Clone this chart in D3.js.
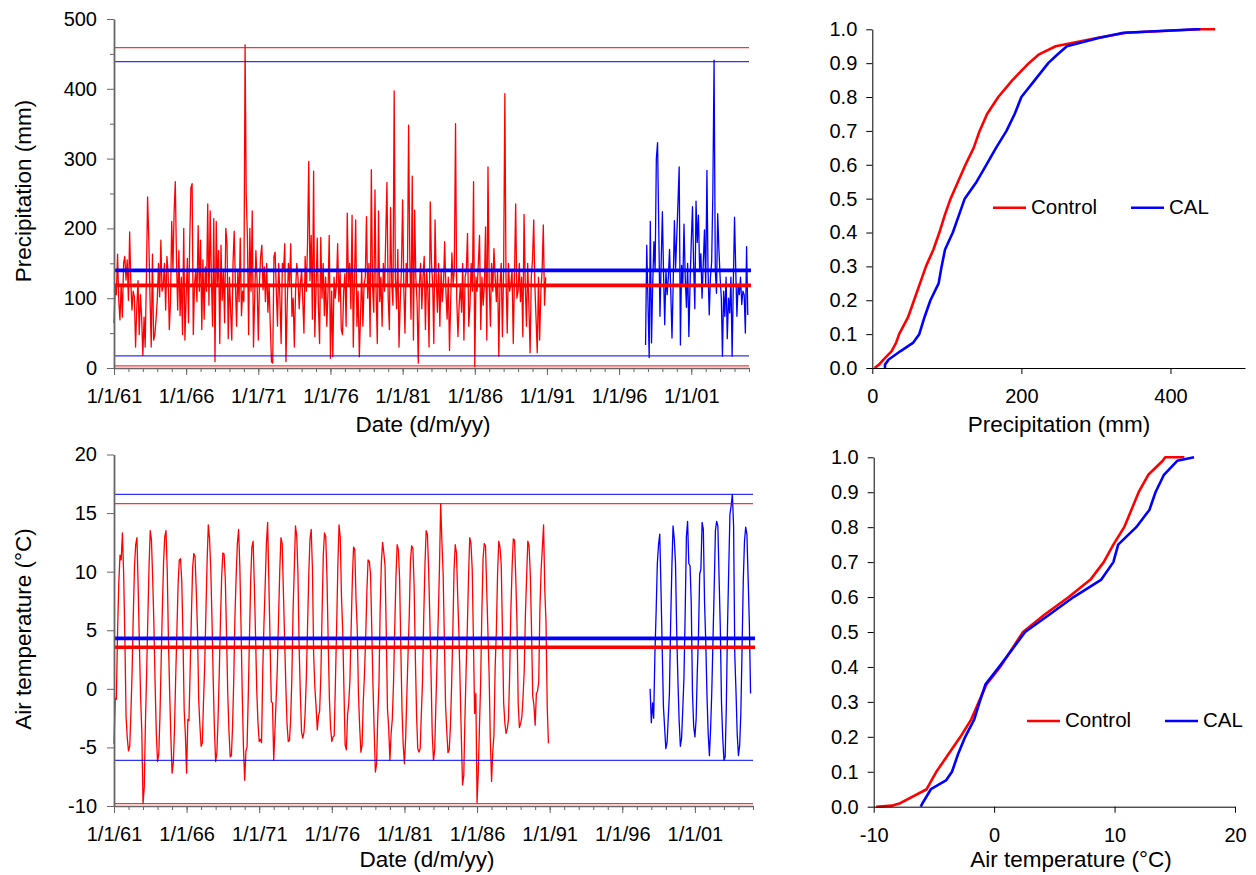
<!DOCTYPE html>
<html>
<head>
<meta charset="utf-8">
<script src="https://cdn.jsdelivr.net/npm/d3@7/dist/d3.min.js"></script>
<style>
	body { margin: 0; background: #fff; }
	svg { display: block; }
</style>
</head>
<body>
<div id="root"></div>
<script>
// ---- data ----
const seriesNames = ['Control', 'CAL']

// monthly precipitation (mm), Control Jan 1961 - Dec 1990, one row per year
const controlPrecip = [
	64, 116, 105, 163, 97, 69, 120, 73, 150, 160, 126, 155,
	97, 195, 126, 83, 110, 102, 30, 87, 125, 48, 105, 73,
	18, 73, 30, 130, 245, 184, 102, 30, 163, 40, 48, 70,
	97, 150, 102, 183, 110, 118, 150, 83, 160, 137, 55, 95,
	210, 140, 221, 267, 157, 83, 168, 75, 130, 48, 200, 40,
	102, 157, 65, 180, 258, 264, 48, 120, 140, 95, 204, 110,
	183, 55, 155, 70, 145, 110, 235, 90, 225, 130, 60, 214,
	9, 210, 120, 168, 35, 176, 97, 138, 65, 200, 178, 42,
	130, 80, 40, 150, 196, 120, 60, 140, 95, 186, 75, 110,
	95, 463, 250, 186, 48, 200, 110, 225, 30, 100, 168, 125,
	40, 125, 160, 176, 112, 145, 95, 150, 80, 120, 60, 9,
	7, 160, 166, 112, 60, 150, 100, 35, 150, 140, 178, 9,
	90, 150, 120, 178, 74, 100, 30, 110, 150, 130, 85, 120,
	140, 95, 50, 160, 110, 180, 296, 125, 190, 70, 282, 45,
	110, 186, 90, 35, 187, 100, 150, 75, 130, 60, 110, 190,
	14, 110, 16, 130, 100, 120, 178, 95, 140, 55, 48, 110,
	135, 60, 222, 120, 150, 85, 219, 30, 130, 212, 60, 110,
	16, 75, 140, 60, 120, 130, 217, 100, 150, 45, 284, 120,
	80, 255, 110, 35, 225, 95, 130, 60, 150, 110, 190, 266,
	100, 55, 230, 120, 90, 397, 130, 85, 170, 30, 95, 140,
	241, 110, 50, 150, 120, 348, 160, 70, 275, 40, 226, 130,
	95, 7, 120, 150, 85, 130, 160, 55, 140, 110, 30, 238,
	150, 120, 35, 212, 130, 80, 150, 60, 140, 95, 120, 181,
	110, 70, 130, 25, 95, 165, 120, 140, 350, 100, 45, 90,
	120, 80, 150, 40, 130, 140, 193, 60, 90, 150, 110, 267,
	2, 130, 110, 150, 190, 55, 130, 90, 120, 202, 40, 288,
	120, 60, 150, 110, 171, 130, 95, 140, 17, 120, 150, 45,
	140, 393, 130, 50, 150, 110, 120, 140, 35, 130, 235, 100,
	110, 150, 95, 130, 45, 220, 120, 60, 150, 90, 22, 130,
	155, 212, 120, 70, 22, 130, 40, 110, 140, 205, 90, 130
]

// monthly precipitation (mm), CAL Nov 1997 - Dec 2004
const calPrecip = [
	33, 176,
	95, 15, 210, 36, 120, 181, 140, 300, 323, 200, 74, 150,
	224, 130, 62, 140, 105, 130, 170, 110, 43, 120, 211, 143,
	190, 240, 288, 33, 147, 120, 206, 130, 87, 150, 45, 120,
	180, 231, 150, 85, 239, 180, 219, 140, 164, 100, 150, 198,
	120, 283, 140, 76, 130, 152, 250, 441, 140, 107, 221, 171,
	130, 100, 17, 110, 74, 130, 42, 100, 79, 130, 17, 120,
	216, 140, 74, 120, 105, 130, 91, 110, 105, 50, 174, 76
]

// monthly air temperature (°C), Control Jan 1961 - Dec 1990
const controlTemp = [
	-4.7, -0.8, -0.9, 4.9, 9.0, 11.4, 11.0, 13.3, 9.8, 4.4, -2.4, -4.2,
	-5.3, -4.9, -2.2, 1.4, 6.3, 10.5, 12.3, 12.9, 8.6, 3.9, -0.7, -3.6,
	-9.8, -8.4, -3.1, 1.2, 5.9, 10.4, 13.5, 12.7, 9.4, 5.6, 0.4, -3.8,
	-6.2, -5.6, -2.4, 2.3, 6.8, 10.8, 13.0, 13.5, 10.1, 4.2, -0.3, -4.1,
	-7.2, -6.3, -3.6, 0.9, 4.8, 8.9, 11.0, 11.1, 9.2, 4.6, -1.8, -3.9,
	-7.2, -2.6, -2.7, 1.7, 6.2, 10.3, 11.55, 11.3, 8.4, 5.1, -0.9, -3.1,
	-4.9, -4.6, -1.2, 1.9, 6.5, 10.9, 14.0, 12.8, 10.2, 6.0, 0.8, -3.4,
	-6.2, -5.5, -2.7, 1.3, 5.7, 9.6, 11.6, 11.5, 9.3, 4.7, -0.4, -3.6,
	-5.8, -5.7, -3.3, 0.8, 6.2, 9.7, 12.4, 13.6, 10.4, 5.3, -0.5, -5.0,
	-7.8, -5.3, -5.0, -0.6, 4.4, 9.3, 12.1, 12.6, 8.8, 4.5, -0.2, -2.9,
	-4.5, -4.3, -4.6, 1.6, 5.6, 8.9, 12.4, 14.2, 9.1, 4.1, -1.1, -1.2,
	-6.1, -3.5, -1.0, 1.8, 6.0, 10.1, 12.9, 12.4, 8.2, 4.3, 0.2, -3.0,
	-4.5, -4.4, -2.7, 0.9, 6.6, 10.2, 13.9, 13.1, 9.9, 3.6, -0.5, -3.7,
	-4.2, -3.7, -2.1, 1.0, 5.3, 9.8, 12.8, 13.6, 10.2, 3.0, 0.1, -1.5,
	-3.5, -2.3, -1.9, 1.2, 6.4, 11.4, 13.3, 13.0, 9.6, 4.2, -0.8, -3.3,
	-4.5, -4.1, -4.0, 0.6, 5.2, 10.5, 14.0, 12.9, 7.8, 5.0, 0.0, -4.8,
	-5.2, -2.2, -1.3, 0.8, 5.1, 9.4, 12.1, 11.9, 7.6, 5.2, -0.4, -3.2,
	-5.4, -4.8, -1.2, 1.2, 4.3, 8.3, 11.0, 10.9, 9.8, 5.3, 0.3, -3.5,
	-7.1, -6.4, -2.5, 0.4, 6.8, 10.8, 12.5, 11.6, 10.5, 4.9, -1.7, -3.3,
	-6.1, -3.8, -2.6, 0.5, 5.1, 9.5, 12.3, 11.9, 9.4, 3.6, -1.9, -4.8,
	-6.4, -4.1, -0.7, 2.9, 6.2, 10.9, 12.2, 12.0, 8.8, 2.9, -2.2, -5.1,
	-5.4, -5.1, -2.2, 0.7, 6.1, 10.6, 13.5, 13.2, 10.2, 6.0, 1.2, -3.9,
	-6.1, -5.2, -1.5, 2.4, 6.1, 10.4, 15.8, 12.6, 9.8, 4.4, -1.4, -3.6,
	-5.45, -5.2, -3.3, 0.3, 4.7, 10.1, 12.3, 11.6, 7.9, 4.8, 0.4, -4.0,
	-8.2, -7.4, -2.7, 1.6, 5.2, 9.6, 12.9, 12.4, 10.2, 4.3, -2.1, -0.4,
	-9.7, -7.1, -3.4, 0.5, 6.4, 11.1, 12.4, 12.2, 8.5, 4.9, 1.1, -4.4,
	-7.9, -5.3, -4.0, 1.8, 4.9, 9.8, 12.6, 12.1, 10.6, 5.0, -1.2, -2.9,
	-3.8, -3.4, -2.6, 1.4, 6.8, 10.4, 12.8, 12.7, 9.4, 5.7, -1.3, -3.3,
	-2.95, -2.4, -0.8, 1.5, 6.3, 9.6, 12.6, 12.2, 9.8, 5.2, -0.6, -1.4,
	-3.1, -0.4, -0.2, 0.6, 6.9, 10.2, 12.0, 14.0, 8.4, 5.7, -1.6, -4.65
]

// monthly air temperature (°C), CAL Dec 1997 - Nov 2004
const calTemp = [
	0.0,
	-2.9, -1.2, -2.5, 3.0, 6.5, 10.7, 12.3, 13.2, 8.5, 3.5, -1.5, -3.3,
	-5.1, -4.6, -2.6, -0.4, 5.5, 10.3, 13.9, 12.8, 10.7, 4.9, 0.7, -2.7,
	-4.9, -4.2, -1.8, 1.0, 6.4, 13.0, 14.3, 10.7, 10.5, 7.3, -0.4, -3.2,
	-4.1, -2.6, 1.3, 4.6, 9.8, 10.2, 14.2, 13.6, 7.3, 4.0, -0.6, -3.8,
	-5.7, -3.3, -0.3, 4.2, 8.6, 13.5, 14.3, 13.9, 9.5, 5.3, -1.2, -4.1,
	-6.1, -5.8, -1.7, 5.3, 10.1, 14.9, 15.6, 16.6, 13.9, 2.9, -0.3, -3.9,
	-5.7, -4.8, -2.1, 3.4, 9.2, 12.6, 13.8, 13.2, 9.4, 5.6, -0.4
]

// first month of each record [year, month index]
const controlStart = [1961, 0]
const calPrecipStart = [1997, 10]
const calTempStart = [1997, 11]

// horizontal reference lines, [Control, CAL]
const precipMin = [3, 17.5]
const precipMean = [118.5, 140]
const precipMax = [459, 439]
const tempMin = [-9.8, -6.1]
const tempMean = [3.55, 4.3]
const tempMax = [15.8, 16.6]

// cumulative distributions: probability levels and the values at them
const precipCdfProb = [0, 0.01, 0.025, 0.05, 0.075, 0.1, 0.15, 0.2, 0.25, 0.3, 0.35, 0.4, 0.45, 0.5, 0.55, 0.6, 0.65, 0.7, 0.75, 0.8, 0.85, 0.9, 0.925, 0.95, 0.975, 0.99, 1, 1]
const precipCdfControl = [3, 9, 15, 26, 32, 36, 48, 56, 64, 72, 82, 90, 97, 105, 115, 125, 136, 144, 154, 169, 188, 210, 223, 246, 303, 341, 440, 460]
const precipCdfCal = [17, 17, 22, 38, 55, 63, 70, 78, 89, 93, 97.6, 108, 116, 124, 140, 153, 166, 180, 191, 200, 218, 236, 248, 261, 305, 337, 435, 440]

const tempCdfProb = [0, 0.003, 0.01, 0.05, 0.075, 0.1, 0.15, 0.2, 0.25, 0.3, 0.35, 0.4, 0.45, 0.5, 0.55, 0.6, 0.65, 0.7, 0.75, 0.8, 0.85, 0.9, 0.95, 0.99, 1, 1]
const tempCdfControl = [-9.8, -8.5, -7.8, -5.6, -5.2, -4.8, -3.8, -2.8, -1.9, -1.27, -0.64, 0.5, 1.45, 2.4, 4.2, 6.2, 8.0, 9.1, 9.9, 10.8, 11.4, 12.0, 12.8, 14.0, 14.2, 15.8]
const tempCdfCal = [-6.1, -6.05, -5.95, -5.25, -4.0, -3.5, -3.0, -2.4, -1.65, -1.2, -0.72, 0.4, 1.5, 2.57, 4.6, 6.6, 8.9, 9.9, 10.3, 11.8, 12.9, 13.4, 14.1, 15.2, 16.6, 16.6]

// ---- layout ----
const C = {
	width: 1256,
	height: 875,
	font: '"Liberation Sans", Arial, Helvetica, sans-serif',
	tickFont: 20,
	titleFont: 22.5,
	legendFont: 20.5,
	colors: ['#ff0000', '#0000ff'],
	dateStart: new Date(1961, 0, 1),
	dateEnd: new Date(2005, 0, 1),
	precipSeries: { x: [114, 749], y: [368, 19], title: [423, 432], ytitle: [30.5, 191] },
	tempSeries: { x: [114, 753], y: [806, 454.5], title: [427, 867], ytitle: [30.5, 629] },
	precipCdf: { x: [872.3, 1245], y: [368, 29.3], title: [1059, 432], legend: [993, 207.7] },
	tempCdf: { x: [873.7, 1235], y: [806.7, 457.3], title: [1071, 867], legend: [1027, 721] },
}

// plain hyphen for negatives, as in the figure
const plainNum = d => String(d)

const container = d3.select('#root')

const svg = container.append('svg')
	.attr('width', C.width)
	.attr('height', C.height)
	.style('font-family', C.font)

svg.append('rect')
	.attr('width', C.width)
	.attr('height', C.height)
	.attr('fill', '#fff')

drawSeries(C.precipSeries,
	[{ values: controlPrecip, start: controlStart }, { values: calPrecip, start: calPrecipStart }],
	precipMin, precipMean, precipMax,
	{ domain: [0, 500], major: d3.range(0, 501, 100), minor: d3.range(50, 500, 100), title: 'Precipitation (mm)' })

drawSeries(C.tempSeries,
	[{ values: controlTemp, start: controlStart }, { values: calTemp, start: calTempStart }],
	tempMin, tempMean, tempMax,
	{ domain: [-10, 20], major: d3.range(-10, 21, 5), minor: [], title: 'Air temperature (°C)' })

drawCdf(C.precipCdf, precipCdfProb, [precipCdfControl, precipCdfCal],
	{ domain: [0, 500], ticks: [0, 200, 400], title: 'Precipitation (mm)' })

drawCdf(C.tempCdf, tempCdfProb, [tempCdfControl, tempCdfCal],
	{ domain: [-10, 20], ticks: [-10, 0, 10, 20], title: 'Air temperature (°C)' })


function drawSeries(p, series, mins, means, maxs, opts) {
	const x = d3.scaleTime()
		.domain([C.dateStart, C.dateEnd])
		.range(p.x)
	const y = d3.scaleLinear()
		.domain(opts.domain)
		.range(p.y)

	const g = svg.append('g')

	// -- monthly lines --
	const line = d3.line()
		.x(d => x(d.date))
		.y(d => y(d.value))

	series.forEach((s, i) => {
		const pts = s.values.map((v, k) => ({ date: new Date(s.start[0], s.start[1] + k, 1), value: v }))
		g.append('path')
			.datum(pts)
			.attr('d', line)
			.attr('fill', 'none')
			.attr('stroke', C.colors[i])
			.attr('stroke-width', 1.3)
			.attr('stroke-linejoin', 'round')
	})

	// -- min / max / mean lines --
	seriesNames.forEach((name, i) => {
		[mins[i], maxs[i]].forEach(v => {
			g.append('line')
				.attr('x1', p.x[0]).attr('x2', p.x[1])
				.attr('y1', y(v)).attr('y2', y(v))
				.attr('stroke', C.colors[i])
				.attr('stroke-width', 1.3)
				.attr('opacity', 0.8)
		})
		g.append('line')
			.attr('x1', p.x[0]).attr('x2', p.x[1] + 2)
			.attr('y1', y(means[i])).attr('y2', y(means[i]))
			.attr('stroke', C.colors[i])
			.attr('stroke-width', 3.7)
	})

	// -- axis --
	const years = d3.timeYear.range(C.dateStart, d3.timeDay.offset(C.dateEnd, 1))
	const labelYears = years.filter(d => (d.getFullYear() - 1961) % 5 === 0 && d < C.dateEnd)
	const yearLabel = d3.timeFormat('%y')

	const axisColor = '#666'

	g.append('g')
		.attr('transform', `translate(0,${p.y[0]})`)
		.call(d3.axisBottom(x).tickValues(years).tickSize(4).tickSizeOuter(0).tickFormat(''))
		.call(a => a.select('.domain').remove())
		.attr('color', axisColor)

	g.append('g')
		.attr('transform', `translate(0,${p.y[0]})`)
		.call(d3.axisBottom(x).tickValues(labelYears).tickSize(7).tickSizeOuter(0)
			.tickFormat(d => '1/1/' + yearLabel(d)))
		.attr('color', axisColor)
		.attr('font-size', C.tickFont)
		.attr('font-family', C.font)
		.call(a => a.select('.domain').attr('stroke-width', 1.5))
		.call(a => a.selectAll('text').attr('y', 35).attr('dy', 0).attr('fill', '#000'))

	if (opts.minor.length) {
		g.append('g')
			.attr('transform', `translate(${p.x[0]},0)`)
			.call(d3.axisLeft(y).tickValues(opts.minor).tickSize(4).tickSizeOuter(0).tickFormat(''))
			.call(a => a.select('.domain').remove())
			.attr('color', axisColor)
	}

	g.append('g')
		.attr('transform', `translate(${p.x[0]},0)`)
		.call(d3.axisLeft(y).tickValues(opts.major).tickSize(7).tickSizeOuter(0).tickFormat(plainNum))
		.attr('color', axisColor)
		.attr('font-size', C.tickFont)
		.attr('font-family', C.font)
		.call(a => a.select('.domain').attr('stroke-width', 1.8))
		.call(a => a.selectAll('text').attr('x', -17).attr('fill', '#000'))

	// -- titles --
	g.append('text')
		.attr('x', p.title[0])
		.attr('y', p.title[1])
		.attr('text-anchor', 'middle')
		.attr('font-size', C.titleFont)
		.text('Date (d/m/yy)')

	g.append('text')
		.attr('transform', `translate(${p.ytitle[0]},${p.ytitle[1]}) rotate(-90)`)
		.attr('text-anchor', 'middle')
		.attr('font-size', C.titleFont)
		.text(opts.title)
}

function drawCdf(p, probs, cdfs, opts) {
	const x = d3.scaleLinear()
		.domain(opts.domain)
		.range(p.x)
	const y = d3.scaleLinear()
		.domain([0, 1])
		.range(p.y)

	const g = svg.append('g')

	const line = d3.line()
		.x(d => x(d))
		.y((d, k) => y(probs[k]))

	cdfs.forEach((vals, i) => {
		g.append('path')
			.datum(vals)
			.attr('d', line)
			.attr('fill', 'none')
			.attr('stroke', C.colors[i])
			.attr('stroke-width', 2.6)
			.attr('stroke-linejoin', 'round')
	})

	// -- axis --
	g.append('g')
		.attr('transform', `translate(0,${p.y[0]})`)
		.call(d3.axisBottom(x).tickValues(opts.ticks).tickSize(6).tickSizeOuter(0).tickFormat(plainNum))
		.attr('font-size', C.tickFont)
		.attr('font-family', C.font)
		.call(a => a.selectAll('text').attr('y', 35).attr('dy', 0))

	g.append('g')
		.attr('transform', `translate(${p.x[0]},0)`)
		.call(d3.axisLeft(y).tickValues(d3.range(0, 11).map(d => d / 10)).tickSize(6).tickSizeOuter(0)
			.tickFormat(d3.format('.1f')))
		.attr('font-size', C.tickFont)
		.attr('font-family', C.font)
		.call(a => a.selectAll('text').attr('x', -15))

	g.append('text')
		.attr('x', p.title[0])
		.attr('y', p.title[1])
		.attr('text-anchor', 'middle')
		.attr('font-size', C.titleFont)
		.text(opts.title)

	// -- legend --
	const legend = g.append('g')
		.attr('transform', `translate(${p.legend[0]},${p.legend[1]})`)

	seriesNames.forEach((name, i) => {
		const item = legend.append('g')
			.attr('transform', `translate(${i * 138},0)`)
		item.append('line')
			.attr('x1', 0).attr('x2', 33)
			.attr('stroke', C.colors[i])
			.attr('stroke-width', 2.6)
		item.append('text')
			.attr('x', 38)
			.attr('y', 6)
			.attr('font-size', C.legendFont)
			.text(name)
	})
}
</script>
</body>
</html>
